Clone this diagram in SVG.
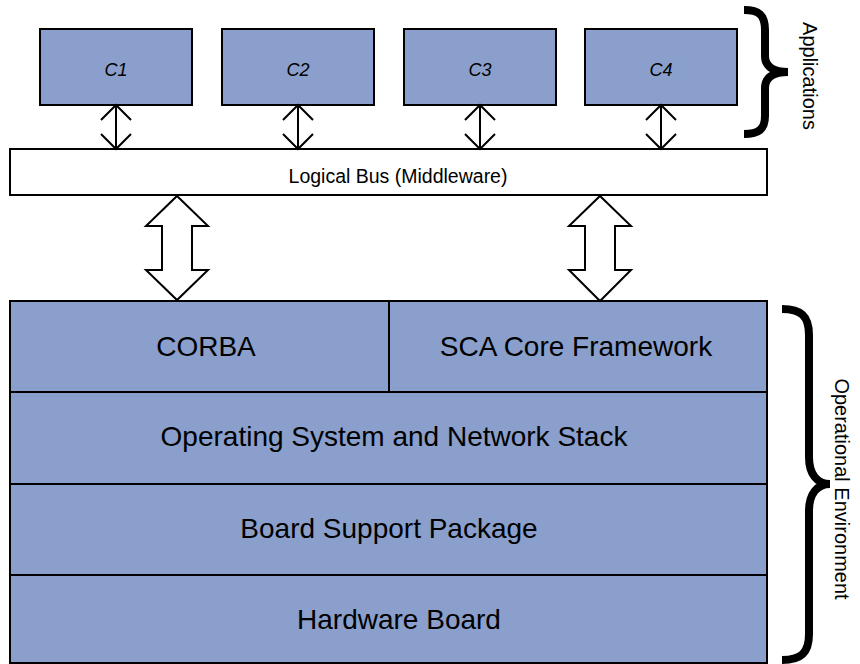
<svg xmlns="http://www.w3.org/2000/svg" width="860" height="664" viewBox="0 0 860 664">
<style>
.box{fill:#8a9fcb;stroke:#000;stroke-width:2}
.bus{fill:#fff;stroke:#000;stroke-width:2}
.t{font-family:"Liberation Sans",Arial,sans-serif;fill:#000;text-anchor:middle}
.ci{font-size:18px;font-style:italic}
.big{font-size:28px}
.side{font-size:20px}
.ln{fill:none;stroke:#000;stroke-width:2}
.fat{fill:#fff;stroke:#000;stroke-width:2;stroke-linejoin:miter}
.brace{fill:none;stroke:#000;stroke-width:8;stroke-linecap:butt}
</style>
<rect width="860" height="664" fill="#fff"/>
<g id="c1"><rect class="box" x="40" y="29" width="152" height="76"/><text class="t ci" x="116" y="76">C1</text></g>
<g id="c2"><rect class="box" x="222" y="29" width="152" height="76"/><text class="t ci" x="298" y="76">C2</text></g>
<g id="c3"><rect class="box" x="404" y="29" width="152" height="76"/><text class="t ci" x="480" y="76">C3</text></g>
<g id="c4"><rect class="box" x="585" y="29" width="152" height="76"/><text class="t ci" x="661" y="76">C4</text></g>
<g id="bus"><rect class="bus" x="10" y="149" width="757" height="46"/><text class="t" style="font-size:19.5px" x="398" y="183">Logical Bus (Middleware)</text></g>
<g id="corba"><rect class="box" x="10" y="301" width="379" height="91"/><text class="t big" x="206" y="356">CORBA</text></g>
<g id="sca"><rect class="box" x="389" y="301" width="378" height="91"/><text class="t big" x="576" y="356">SCA Core Framework</text></g>
<g id="os"><rect class="box" x="10" y="392" width="757" height="92"/><text class="t big" x="394" y="446">Operating System and Network Stack</text></g>
<g id="bsp"><rect class="box" x="10" y="484" width="757" height="91"/><text class="t big" x="389" y="538">Board Support Package</text></g>
<g id="hw"><rect class="box" x="10" y="575" width="757" height="88"/><text class="t big" x="399" y="629">Hardware Board</text></g>
<g id="connectors">
<g id="a1"><line class="ln" x1="116" y1="105" x2="116" y2="149"/><polyline class="ln" points="101,120 116,105 131,120"/><polyline class="ln" points="101,134 116,149 131,134"/></g>
<g id="a2"><line class="ln" x1="298" y1="105" x2="298" y2="149"/><polyline class="ln" points="283,120 298,105 313,120"/><polyline class="ln" points="283,134 298,149 313,134"/></g>
<g id="a3"><line class="ln" x1="480" y1="105" x2="480" y2="149"/><polyline class="ln" points="465,120 480,105 495,120"/><polyline class="ln" points="465,134 480,149 495,134"/></g>
<g id="a4"><line class="ln" x1="661" y1="105" x2="661" y2="149"/><polyline class="ln" points="646,120 661,105 676,120"/><polyline class="ln" points="646,134 661,149 676,134"/></g>
<polygon class="fat" points="177,196 208,226 192,226 192,270 208,270 177,300 146,270 162,270 162,226 146,226"/>
<polygon class="fat" points="600,196 631,226 615,226 615,270 631,270 600,301 569,270 585,270 585,226 569,226"/>
</g>
<g id="applications">
<path class="brace" d="M744,10 C759,10 765,15 765,30 L765,56 C765,67 774,72 788,72 C774,72 765,77 765,88 L765,116 C765,129 759,134 744,134"/>
<text class="t side" transform="translate(803,76) rotate(90)">Applications</text>
</g>
<g id="operational">
<path class="brace" d="M782,309 C801,309 809,316 809,335 L809,457 C809,474 817,484 830,484 C817,484 809,494 809,511 L809,634 C809,653 801,660 782,660"/>
<text class="t side" transform="translate(835,489) rotate(90)">Operational Environment</text>
</g>
</svg>
